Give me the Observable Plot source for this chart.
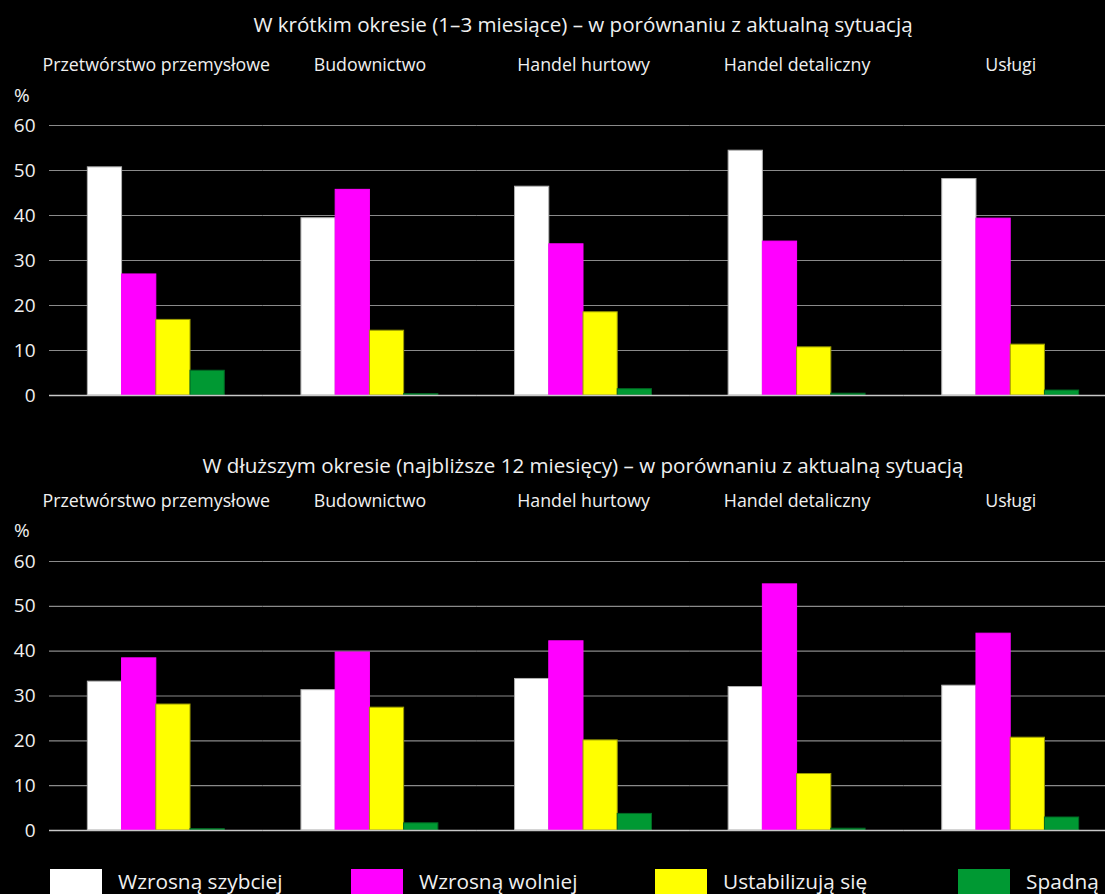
<!DOCTYPE html>
<html><head><meta charset="utf-8">
<script src="https://cdn.jsdelivr.net/npm/d3@7"></script>
<script src="https://cdn.jsdelivr.net/npm/@observablehq/plot@0.6"></script>
<style>
html,body{margin:0;padding:0;background:#000;overflow:hidden;}
body{width:1105px;height:894px;}
#wrap{position:relative;width:1120px;height:894px;font-family:"Open Sans",sans-serif;color:#f0f0f0;}
.title{position:absolute;left:49px;width:1068px;text-align:center;font-size:20.6px;line-height:24px;white-space:nowrap;}
.pct{position:absolute;left:14px;font-size:19px;line-height:22px;}
.chart{position:absolute;left:0;}
.legend{position:absolute;left:0;top:869px;width:1120px;height:40px;}
.item{position:absolute;top:0;height:40px;}
.sw{position:absolute;left:0;top:0;width:52px;height:40px;}
.lab{position:absolute;left:68px;top:0;font-size:20.8px;line-height:24px;white-space:nowrap;}
</style></head>
<body><div id="wrap"></div>
<script>
const sectors = ["Przetwórstwo przemysłowe", "Budownictwo", "Handel hurtowy", "Handel detaliczny", "Usługi"];
const seriesNames = ["Wzrosną szybciej", "Wzrosną wolniej", "Ustabilizują się", "Spadną"];
const seriesColors = ["#ffffff", "#ff00ff", "#ffff00", "#009933"];
const seriesStrokes = ["#b0b0b0", "#ff00ff", "#9a9a00", "#006a24"];
const yTicks = [0, 10, 20, 30, 40, 50, 60];
const titles = [
  "W krótkim okresie (1–3 miesiące) – w porównaniu z aktualną sytuacją",
  "W dłuższym okresie (najbliższe 12 miesięcy) – w porównaniu z aktualną sytuacją"
];
// short term (1-3 months)
const shortSzybciej = [50.7, 39.4, 46.4, 54.4, 48.1];
const shortWolniej = [26.9, 45.7, 33.6, 34.2, 39.3];
const shortStabil = [16.8, 14.4, 18.5, 10.7, 11.3];
const shortSpadna = [5.5, 0.3, 1.4, 0.4, 1.1];
// longer term (12 months)
const longSzybciej = [33.2, 31.3, 33.8, 32.0, 32.3];
const longWolniej = [38.4, 39.7, 42.2, 54.9, 43.9];
const longStabil = [28.1, 27.4, 20.1, 12.6, 20.7];
const longSpadna = [0.3, 1.6, 3.7, 0.4, 2.9];

const FONT = '"Open Sans", sans-serif';
const wrap = document.getElementById("wrap");

function panel(values, top, marginTop, frameH) {
  const rows = [];
  sectors.forEach((s, i) => seriesNames.forEach((n, j) => rows.push({sector: s, series: n, value: values[j][i]})));
  const bars = seriesNames.map((n, j) => Plot.barY(rows.filter(d => d.series === n), {
    fx: "sector", x: "series", y: "value", fill: "series", stroke: seriesStrokes[j], strokeWidth: 1
  }));
  const p = Plot.plot({
    width: 1117, height: marginTop + frameH + 20,
    marginLeft: 49, marginRight: 0, marginTop: marginTop, marginBottom: 20,
    style: {background: "transparent", color: "#f0f0f0", fontFamily: FONT, fontSize: "19px"},
    fx: {domain: sectors, padding: 0, round: false, label: null},
    x: {domain: seriesNames, paddingInner: 0, paddingOuter: 1.12, round: false, axis: null},
    y: {domain: [0, 60], label: null},
    color: {domain: seriesNames, range: seriesColors},
    marks: [
      Plot.gridY(yTicks, {stroke: "#8a8a8a", strokeOpacity: 1, strokeWidth: 1.2}),
      Plot.axisY(yTicks, {tickSize: 0, tickPadding: 14, label: null, fontSize: 19}),
      Plot.axisFx({anchor: "top", tickSize: 0, tickPadding: 55, label: null, fontSize: 17.8}),
      ...bars,
      Plot.ruleY([0], {stroke: "#c8c8c8", strokeWidth: 1.5})
    ]
  });
  p.classList.add("chart");
  p.style.top = top + "px";
  wrap.appendChild(p);
}

function addText(cls, text, top) {
  const d = document.createElement("div");
  d.className = cls; d.textContent = text; d.style.top = top + "px";
  wrap.appendChild(d);
}

addText("title", titles[0], 12);
addText("title", titles[1], 453);
addText("pct", "%", 84);
addText("pct", "%", 519);
panel([shortSzybciej, shortWolniej, shortStabil, shortSpadna], 40, 85, 270);
panel([longSzybciej, longWolniej, longStabil, longSpadna], 480, 81, 269);

const leg = document.createElement("div");
leg.className = "legend";
const legX = [50, 351, 655, 958];
seriesNames.forEach((n, j) => {
  const it = document.createElement("div");
  it.className = "item"; it.style.left = legX[j] + "px";
  const sw = document.createElement("div");
  sw.className = "sw"; sw.style.background = seriesColors[j];
  const lb = document.createElement("div");
  lb.className = "lab"; lb.textContent = n;
  it.appendChild(sw); it.appendChild(lb);
  leg.appendChild(it);
});
wrap.appendChild(leg);
</script>
</body></html>
